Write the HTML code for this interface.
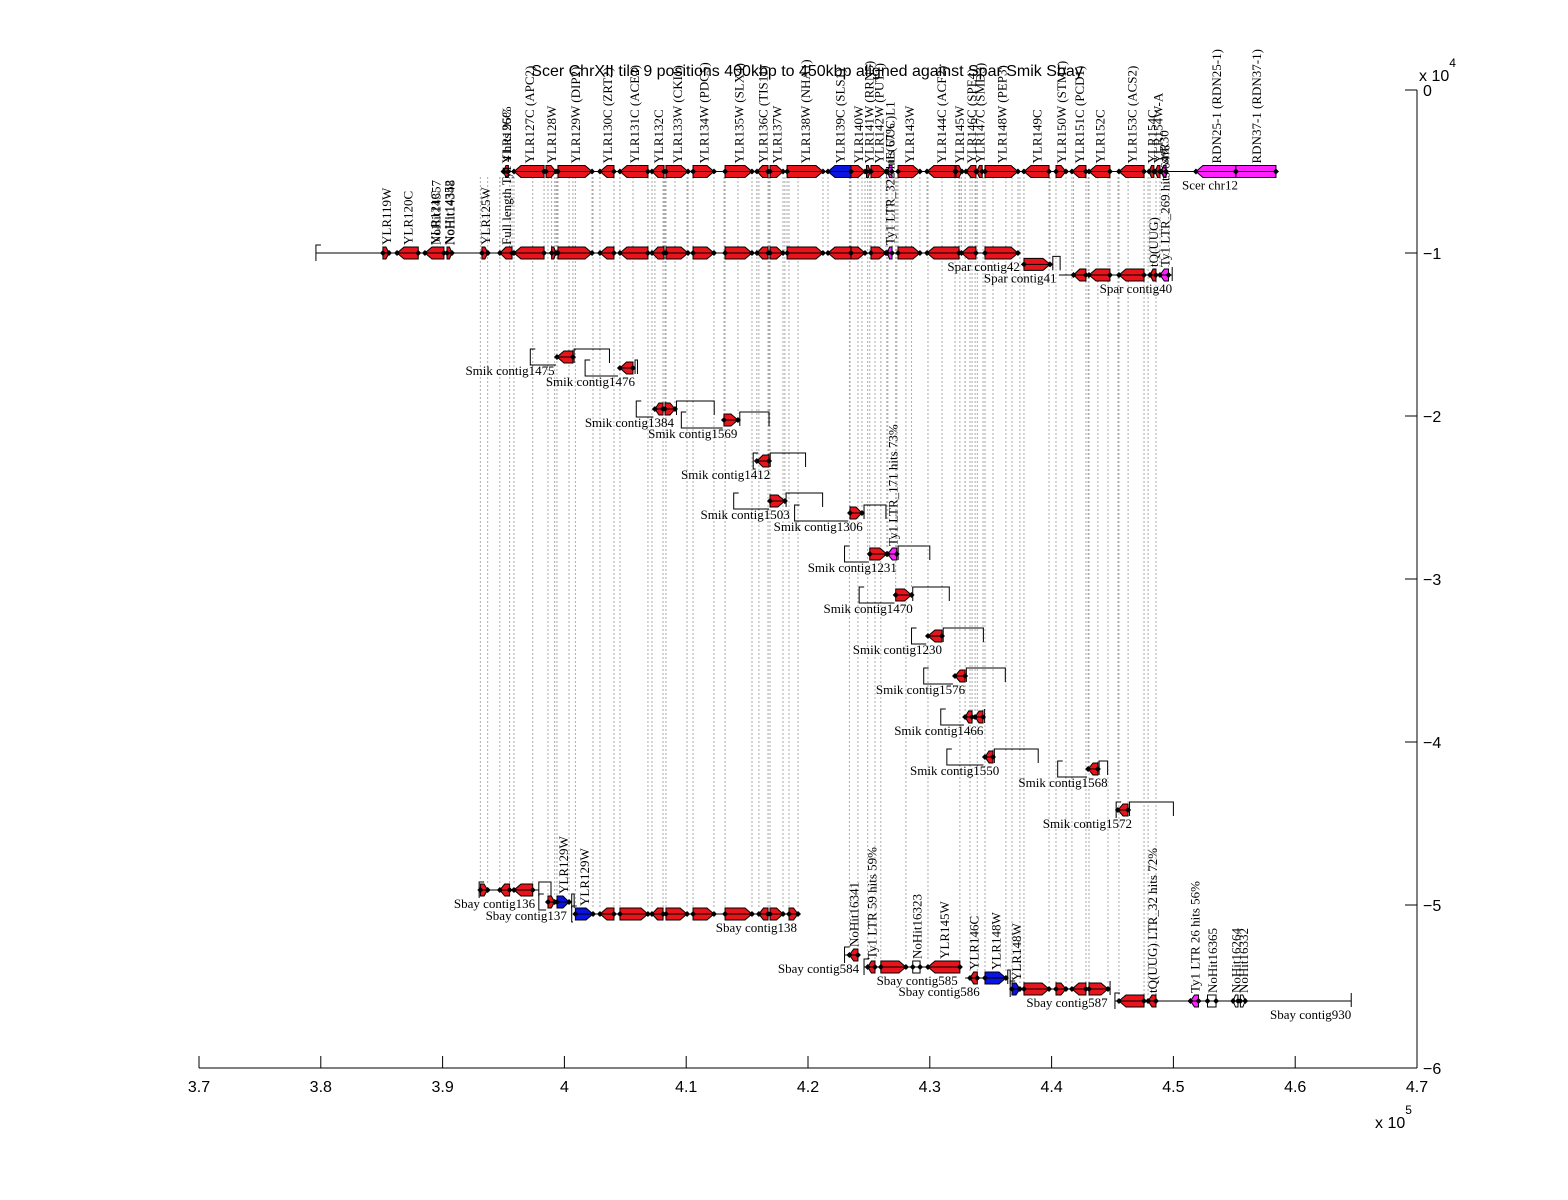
<!DOCTYPE html>
<html><head><meta charset="utf-8"><style>
html,body{margin:0;padding:0;background:#fff;}
svg{display:block;}
.lbl{font-family:"Liberation Serif",serif;font-size:13px;fill:#000;}
.ax{font-family:"Liberation Sans",sans-serif;font-size:16px;fill:#000;}
</style></head><body>
<svg id="chart" width="1568" height="1200" viewBox="0 0 1568 1200" xmlns="http://www.w3.org/2000/svg">
<rect width="1568" height="1200" fill="#fff"/>
<text class="ax" x="807" y="76" text-anchor="middle">Scer ChrXII tile 9 positions 400kbp to 450kbp aligned against Spar Smik Sbay</text>
<g id="links"></g>
<g id="tracks"></g>
<g id="axes"></g>
</svg>
<script>
// x values in kbp, y values in data units (track offset)
const xTicks = [370,380,390,400,410,420,430,440,450,460,470];
const xTickLabels = ["3.7","3.8","3.9","4","4.1","4.2","4.3","4.4","4.5","4.6","4.7"];
const yTicks = [0,-10000,-20000,-30000,-40000,-50000,-60000];
const yTickLabels = ["0","\u22121","\u22122","\u22123","\u22124","\u22125","\u22126"];

// contigs: [name, y, start, end, labelEnd, bracketLeft, bracketRight]
const scerContigs = [["Scer chr12",-5000,394.8,458.42,455.3,null,null]];
const sparContigs = [
 ["Spar contig42",-10000,379.6,437.4,437.4,379.6,null],
 ["Spar contig41",-10700,437.5,440.1,440.4,null,440.7],
 ["Spar contig40",-11350,440.6,449.9,449.9,null,449.9]];
const smikContigs = [
 ["Smik contig1475",-16380,399.3,400.8,399.2,397.2,403.7],
 ["Smik contig1476",-17055,404.4,405.8,405.8,401.7,406.0],
 ["Smik contig1384",-19570,407.3,409.2,409.0,405.9,412.3],
 ["Smik contig1569",-20245,413.0,414.4,414.2,409.6,416.8],
 ["Smik contig1412",-22760,415.7,416.9,416.9,415.5,419.8],
 ["Smik contig1503",-25215,416.8,418.2,418.5,413.9,421.2],
 ["Smik contig1306",-25950,423.3,424.6,424.5,418.9,426.4],
 ["Smik contig1231",-28466,425.0,427.4,427.3,423.0,430.0],
 ["Smik contig1470",-30980,427.1,428.6,428.6,424.2,431.6],
 ["Smik contig1230",-33500,429.7,431.1,431.0,428.5,434.4],
 ["Smik contig1576",-35950,431.9,433.0,432.9,429.5,436.2],
 ["Smik contig1466",-38466,432.8,434.5,434.4,430.9,434.5],
 ["Smik contig1550",-40920,434.4,435.3,435.7,431.4,438.9],
 ["Smik contig1568",-41656,442.9,443.9,444.6,440.5,444.6],
 ["Smik contig1572",-44170,445.3,446.4,446.6,445.3,450.0]];
const sbayContigs = [
 ["Sbay contig136",-49080,393.0,397.9,397.6,393.0,398.9],
 ["Sbay contig137",-49816,398.5,400.6,400.2,397.9,400.8],
 ["Sbay contig138",-50552,400.7,419.3,419.1,400.6,null],
 ["Sbay contig584",-53068,423.0,424.3,424.2,423.0,null],
 ["Sbay contig585",-53804,424.6,432.5,432.3,424.6,null],
 ["Sbay contig586",-54480,432.9,436.4,434.1,null,436.6],
 ["Sbay contig587",-55155,436.6,444.8,444.6,436.6,444.8],
 ["Sbay contig930",-55890,445.2,464.6,464.6,445.2,464.6]];

// genes: [y, start, end, dir(1=W,-1=C,0=box), color, label, linked]
const scerGenes = [
 [-5000,395.0,395.4,-1,"r","YLR126C",0],
 [-5000,395.86,398.33,-1,"r","YLR127C (APC2)",0],
 [-5000,398.49,399.31,1,"r","YLR128W",0],
 [-5000,399.47,402.27,1,"r","YLR129W (DIP2)",0],
 [-5000,402.92,404.07,-1,"r","YLR130C (ZRT2)",0],
 [-5000,404.56,406.86,-1,"r","YLR131C (ACE2)",0],
 [-5000,407.19,408.18,-1,"r","YLR132C",0],
 [-5000,408.34,410.15,1,"r","YLR133W (CKI1)",0],
 [-5000,410.56,412.28,1,"r","YLR134W (PDC5)",0],
 [-5000,413.19,415.4,1,"r","YLR135W (SLX4)",0],
 [-5000,415.81,416.72,-1,"r","YLR136C (TIS11)",0],
 [-5000,416.88,417.95,1,"r","YLR137W",0],
 [-5000,418.28,421.23,1,"r","YLR138W (NHA1)",0],
 [-5000,421.64,423.53,-1,"b","YLR139C (SLS1)",0],
 [-5000,423.53,424.68,1,"r","YLR140W",0],
 [-5000,424.8,425.1,1,"r","YLR141W (RRN5)",0],
 [-5000,425.17,426.4,1,"r","YLR142W (PUT1)",0],
 [-5000,426.5,426.9,-1,"m","tE(UUC)L1",0],
 [-5000,427.39,429.19,1,"r","YLR143W",0],
 [-5000,429.77,432.07,-1,"r","YLR144C (ACF2)",0],
 [-5000,432.15,432.64,1,"r","YLR145W",0],
 [-5000,432.97,433.79,-1,"r","YLR146C (SPE4)",0],
 [-5000,433.85,434.3,-1,"r","YLR147C (SMD3)",0],
 [-5000,434.53,437.24,1,"r","YLR148W (PEP3)",0],
 [-5000,437.73,439.79,-1,"r","YLR149C",0],
 [-5000,440.36,441.18,1,"r","YLR150W (STM1)",0],
 [-5000,441.67,442.82,-1,"r","YLR151C (PCD1)",0],
 [-5000,443.07,444.79,-1,"r","YLR152C",0],
 [-5000,445.53,447.59,-1,"r","YLR153C (ACS2)",0],
 [-5000,448.0,448.4,-1,"r","YLR154C",0],
 [-5000,448.5,448.9,-1,"r","YLR154W-A",0],
 [-5000,449.0,449.4,-1,"m","snR30",0],
 [-5000,451.85,455.13,-1,"m","RDN25-1 (RDN25-1)",0],
 [-5000,455.13,458.42,0,"m","RDN37-1 (RDN37-1)",0]];
const sparGenes = [
 [-10000,385.1,385.6,1,"r","YLR119W",0],
 [-10000,386.26,388.0,-1,"r","YLR120C",0],
 [-10000,388.55,390.11,-1,"r","YLR121C",0],
 [-10000,390.36,390.77,1,"r","NoHit14348",0],
 [-10000,393.23,393.72,1,"r","YLR125W",0],
 [-10000,394.7,395.7,-1,"r","Full length Ty1 4 hits 95%",1],
 [-10000,395.86,398.33,-1,"r","",1],
 [-10000,398.95,399.31,1,"r","",1],
 [-10000,399.47,402.27,1,"r","",1],
 [-10000,402.92,404.07,-1,"r","",1],
 [-10000,404.56,406.86,-1,"r","",1],
 [-10000,407.19,408.18,-1,"r","",1],
 [-10000,408.34,410.15,1,"r","",1],
 [-10000,410.56,412.28,1,"r","",1],
 [-10000,413.19,415.4,1,"r","",1],
 [-10000,415.81,416.72,-1,"r","",1],
 [-10000,416.88,417.95,1,"r","",1],
 [-10000,418.28,421.23,1,"r","",1],
 [-10000,421.64,423.53,-1,"r","",1],
 [-10000,423.53,424.68,1,"r","",1],
 [-10000,425.17,426.4,1,"r","",1],
 [-10000,426.5,426.9,-1,"m","Ty1 LTR_322 hits 67%",1],
 [-10000,427.39,429.19,1,"r","",1],
 [-10000,429.77,432.4,-1,"r","",1],
 [-10000,432.6,433.79,-1,"r","",1],
 [-10000,434.53,437.24,1,"r","",1],
 [-10700,437.73,439.87,1,"r","",1],
 [-11350,441.8,442.82,-1,"r","",1],
 [-11350,443.07,444.79,-1,"r","",1],
 [-11350,445.53,447.59,-1,"r","",1],
 [-11350,448.08,448.57,-1,"r","tQ(UUG)",1],
 [-11350,448.9,449.6,-1,"m","Ty1 LTR_269 hits 64%",1]];
const smikGenes = [
 [-16380,399.39,400.7,-1,"r","",1],
 [-17055,404.56,405.63,-1,"r","",1],
 [-19570,407.43,408.1,-1,"r","",1],
 [-19570,408.26,409.08,1,"r","",1],
 [-20245,413.1,414.25,1,"r","",1],
 [-22760,415.8,416.8,-1,"r","",1],
 [-25215,416.88,418.1,1,"r","",1],
 [-25950,423.45,424.43,1,"r","",1],
 [-28466,425.07,426.47,1,"r","",1],
 [-28466,426.55,427.29,-1,"m","Ty1 LTR_171 hits 73%",1],
 [-30980,427.2,428.5,1,"r","",1],
 [-33500,429.85,431.0,-1,"r","",1],
 [-35950,432.07,432.9,-1,"r","",1],
 [-38466,432.9,433.47,-1,"r","",1],
 [-38466,433.72,434.37,-1,"r","",1],
 [-40920,434.53,435.19,-1,"r","",1],
 [-41656,443.0,443.8,-1,"r","",1],
 [-44170,445.45,446.28,-1,"r","",1]];
const sbayGenes = [
 [-49080,393.1,393.7,1,"r","",1],
 [-49080,394.7,395.5,-1,"r","",1],
 [-49080,395.86,397.4,-1,"r","",1],
 [-49816,398.65,399.2,1,"r","",1],
 [-49816,399.39,400.38,1,"b","YLR129W",1],
 [-50552,400.9,402.35,1,"b","YLR129W",1],
 [-50552,402.92,404.07,-1,"r","",1],
 [-50552,404.56,406.86,1,"r","",1],
 [-50552,407.19,408.1,-1,"r","",1],
 [-50552,408.34,410.07,1,"r","",1],
 [-50552,410.56,412.28,1,"r","",1],
 [-50552,413.19,415.4,1,"r","",1],
 [-50552,415.97,416.72,-1,"r","",1],
 [-50552,416.88,417.95,1,"r","",1],
 [-50552,418.44,419.18,1,"r","",1],
 [-53068,423.4,424.1,-1,"r","NoHit16341",1],
 [-53804,424.9,425.5,-1,"r","Ty1 LTR 59 hits 59%",1],
 [-53804,425.98,428.04,1,"r","",1],
 [-53804,428.6,429.2,0,"w","NoHit16323",0],
 [-53804,429.85,432.47,-1,"r","YLR145W",1],
 [-54480,433.3,433.9,-1,"r","YLR146C",1],
 [-54480,434.53,436.25,1,"b","YLR148W",1],
 [-55155,436.75,437.4,1,"b","YLR148W",1],
 [-55155,437.73,439.79,1,"r","",1],
 [-55155,440.36,441.18,1,"r","",1],
 [-55155,441.67,442.82,-1,"r","",1],
 [-55155,443.07,444.63,1,"r","",1],
 [-55890,445.53,447.59,-1,"r","",1],
 [-55890,447.92,448.57,-1,"r","tQ(UUG) LTR_32 hits 72%",1],
 [-55890,451.4,452.06,-1,"m","Ty1 LTR 26 hits 56%",0],
 [-55890,452.8,453.5,0,"w","NoHit16365",0],
 [-55890,454.9,455.3,-1,"w","NoHit16264",0],
 [-55890,455.5,455.9,1,"w","NoHit16332",0]];

const X = kb => 199 + (kb-370)*12.18;
const Y = v => 90 - v*978/60000;
const NS = "http://www.w3.org/2000/svg";
const colors = {r:"#e8141c", b:"#0a14e0", m:"#ff20ff", w:"#ffffff"};
function mk(tag, attrs, parent){const e=document.createElementNS(NS,tag);for(const k in attrs)e.setAttribute(k,attrs[k]);parent.appendChild(e);return e;}
const links=document.getElementById("links"), tracks=document.getElementById("tracks"), axes=document.getElementById("axes");

function drawContig(c){
  const [name,y,s,e,le,bl,br]=c; const yy=Y(y);
  const g=mk("g",{},tracks);
  
  
  mk("line",{x1:X(s),y1:yy,x2:X(e),y2:yy,stroke:"#000","stroke-width":1},g);
  if(bl!==null){ const xl=X(bl);
    mk("polyline",{points:`${xl+5},${yy-8} ${xl},${yy-8} ${xl},${yy+8} ${X(s)},${yy+8}`,fill:"none",stroke:"#000"},g);}
  if(br!==null){ const xr=X(br);
    mk("polyline",{points:`${X(e)},${yy+6} ${X(e)},${yy-8} ${xr},${yy-8} ${xr},${yy+6}`,fill:"none",stroke:"#000"},g);}
  const t=mk("text",{class:"lbl",x:X(le),y:yy+18,"text-anchor":"end"},g); t.textContent=name;
  
  
}
function drawGene(gd, isScer){
  const [y,s,e,dir,col,label,linked]=gd; const yy=Y(y); const x1=X(s), x2=X(e); const w=x2-x1; const h=6; const a=Math.min(7,w*0.5);
  if(linked){
    for(const xx of [x1,x2]){
      const l=mk("line",{x1:xx,y1:Y(-5000)+6,x2:xx,y2:yy-6,stroke:"#555","stroke-width":1,"stroke-dasharray":"1,3"},links);
      
      
    }
  }
  let pts;
  if(dir===1) pts=`${x1},${yy-h} ${x2-a},${yy-h} ${x2},${yy} ${x2-a},${yy+h} ${x1},${yy+h}`;
  else if(dir===-1) pts=`${x2},${yy-h} ${x1+a},${yy-h} ${x1},${yy} ${x1+a},${yy+h} ${x2},${yy+h}`;
  else pts=`${x1},${yy-h} ${x2},${yy-h} ${x2},${yy+h} ${x1},${yy+h}`;
  const p=mk("polygon",{points:pts,fill:colors[col],stroke:"#000","stroke-width":1},tracks);
  
  
  mk("line",{x1:x1,y1:yy,x2:x2,y2:yy,stroke:"#000","stroke-width":1},tracks);
  for(const xx of [x1,x2]) mk("polygon",{points:`${xx-3},${yy} ${xx},${yy-3} ${xx+3},${yy} ${xx},${yy+3}`,fill:"#000"},tracks);
  if(label){
    const cx=(x1+x2)/2+5;
    const t=mk("text",{class:"lbl",transform:`translate(${cx},${yy-8}) rotate(-90)`},tracks); t.textContent=label;
    
    
  }
}
[...scerContigs,...sparContigs,...smikContigs,...sbayContigs].forEach(drawContig);
scerGenes.forEach(g=>drawGene(g,true));
[...sparGenes,...smikGenes,...sbayGenes].forEach(g=>drawGene(g,false));
// Spar extra left labels
const sparExtra=[[389.4,"NoHit14357"],[390.5,"NoHit14352"]];
sparExtra.forEach(([kb,txt])=>{const t=mk("text",{class:"lbl",transform:`translate(${X(kb)+5},${Y(-10000)-8}) rotate(-90)`},tracks);t.textContent=txt;
 
 });

// axes
const xa=mk("line",{x1:X(370),y1:Y(-60000),x2:X(470),y2:Y(-60000),stroke:"#000"},axes);


xTicks.forEach((v,i)=>{
  mk("line",{x1:X(v),y1:Y(-60000),x2:X(v),y2:Y(-60000)-12,stroke:"#000"},axes);
  const t=mk("text",{class:"ax",x:X(v),y:Y(-60000)+24,"text-anchor":"middle"},axes); t.textContent=xTickLabels[i];
  
  
});
const ya=mk("line",{x1:X(470),y1:Y(0),x2:X(470),y2:Y(-60000),stroke:"#000"},axes);


yTicks.forEach((v,i)=>{
  mk("line",{x1:X(470)-12,y1:Y(v),x2:X(470),y2:Y(v),stroke:"#000"},axes);
  const t=mk("text",{class:"ax",x:X(470)+6,y:Y(v)+6},axes); t.textContent=yTickLabels[i];
  
  
});
const e5=mk("text",{class:"ax",x:1375,y:1128},axes); e5.innerHTML='x 10<tspan dy="-14" font-size="12">5</tspan>';


const e4=mk("text",{class:"ax",x:1419,y:81},axes); e4.innerHTML='x 10<tspan dy="-14" font-size="12">4</tspan>';


</script>
</body></html>
